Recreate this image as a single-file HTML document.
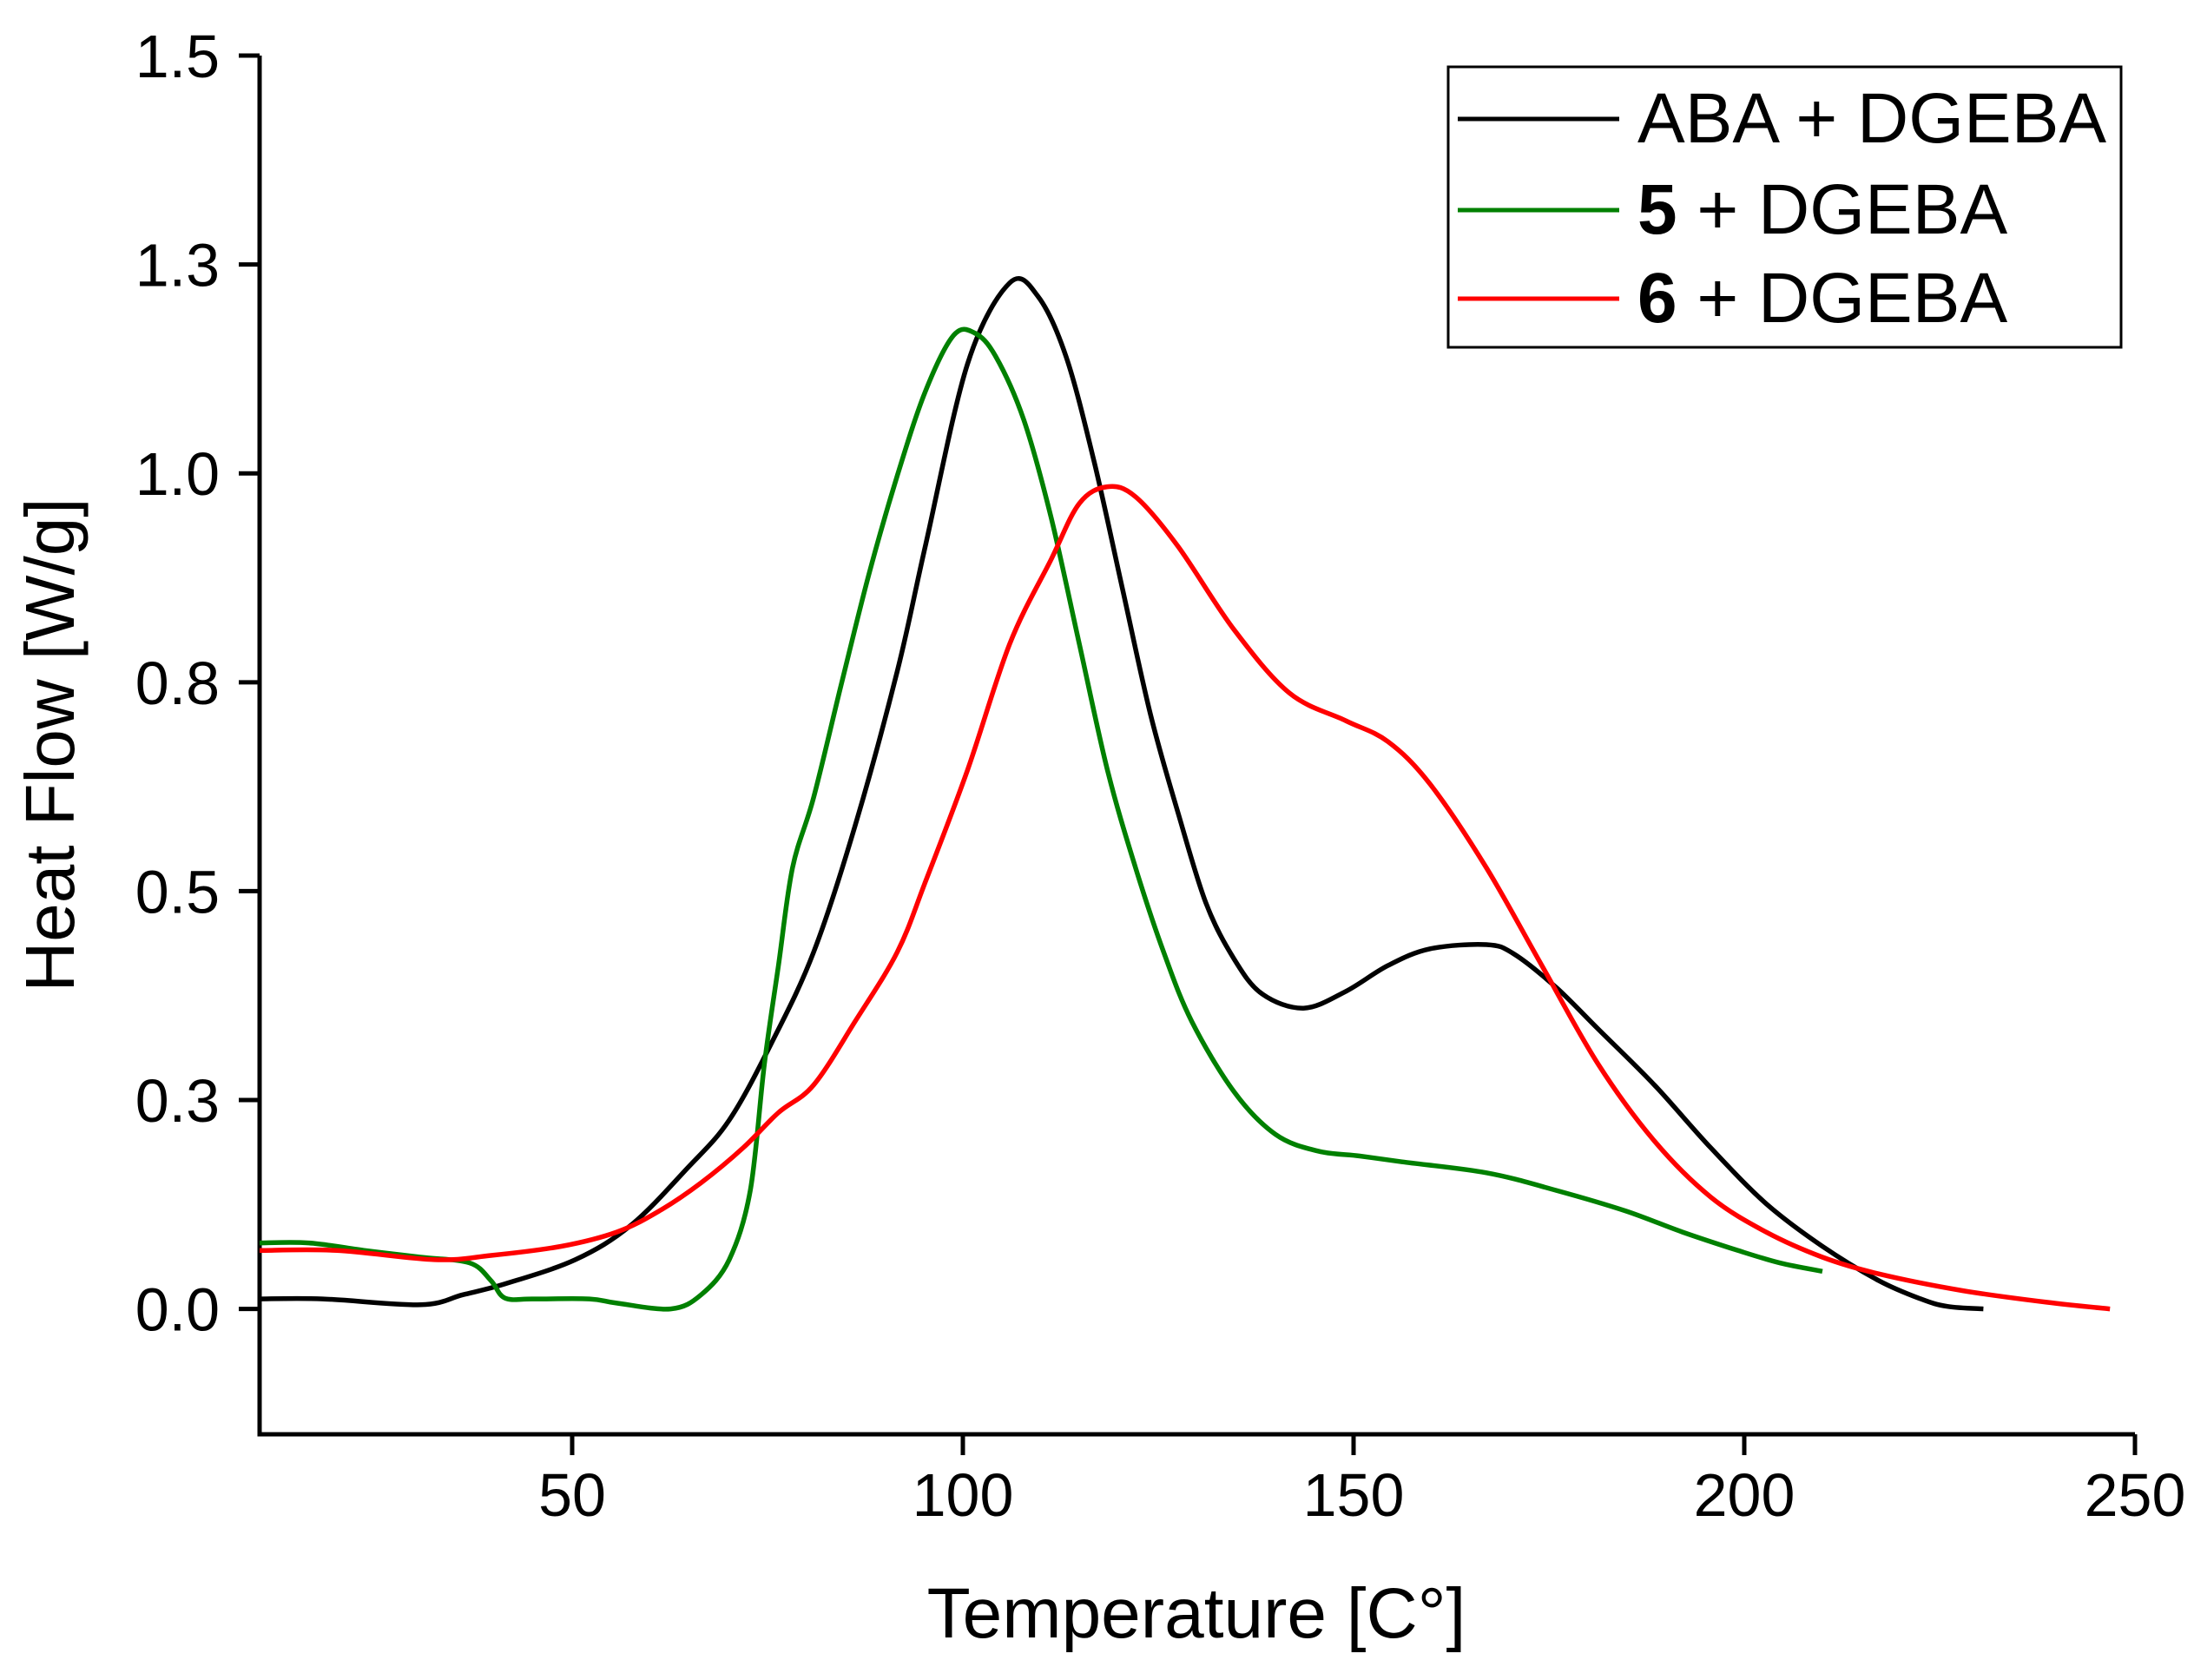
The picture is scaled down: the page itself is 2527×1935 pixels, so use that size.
<!DOCTYPE html>
<html><head><meta charset="utf-8"><style>
html,body{margin:0;padding:0;background:#fff;}
svg{display:block;font-family:"Liberation Sans",Arial,sans-serif;}
</style></head><body>
<svg id="chart" width="2527" height="1935" viewBox="0 0 2527 1935" xmlns="http://www.w3.org/2000/svg">
<g id="axes"></g>
<g id="series"></g>
<g>
<rect x="1668" y="77" width="775" height="323" fill="#fff" stroke="#000" stroke-width="3"/>
<line x1="1679" y1="137" x2="1865" y2="137" stroke="#000" stroke-width="5"/>
<text x="1886" y="164" font-size="82">ABA + DGEBA</text>
<line x1="1679" y1="242" x2="1865" y2="242" stroke="#008000" stroke-width="5"/>
<text x="1886" y="269" font-size="82"><tspan font-weight="bold">5</tspan> + DGEBA</text>
<line x1="1679" y1="344" x2="1865" y2="344" stroke="#ff0000" stroke-width="5"/>
<text x="1886" y="371" font-size="82"><tspan font-weight="bold">6</tspan> + DGEBA</text>
</g>
<text x="1378" y="1886" font-size="82" text-anchor="middle">Temperature [C°]</text>
<text transform="translate(85,858) rotate(-90)" font-size="80" text-anchor="middle">Heat Flow [W/g]</text>
</svg>
<script>
const xTicks=[50,100,150,200,250];
const xTickLabels=["50","100","150","200","250"];
const yTicks=[0,0.25,0.5,0.75,1.0,1.25,1.5];
const yTickLabels=["0.0","0.3","0.5","0.8","1.0","1.3","1.5"];
const abaT=[10,18.1,30.6,36,41.4,50.4,57.5,64.7,70.1,75.5,80.9,86.2,91.6,95.2,100.6,106,109.6,113.2,116.8,120.4,124,127.5,131.1,134.7,138.3,143.6,149,154.4,159.8,167,170.5,175.9,181.3,188.5,195.7,202.8,210,217.2,222.6,226,230.6];
const abaV=[0.012,0.012,0.005,0.017,0.03,0.059,0.10,0.168,0.226,0.318,0.427,0.578,0.763,0.913,1.131,1.228,1.212,1.14,1.014,0.863,0.712,0.595,0.486,0.419,0.377,0.360,0.380,0.411,0.431,0.436,0.425,0.385,0.335,0.268,0.193,0.126,0.075,0.034,0.012,0.003,0];
const g5T=[10,16.3,23.5,30.6,36.9,39.6,41.4,45,52.2,55.7,62.6,66.5,70.1,72.8,74.6,76.4,78.2,80.9,84.4,88,91.6,95.2,98.8,101.5,104.2,107.8,111.3,114.9,118.5,122.1,125.7,129.3,134.7,140,145.4,150.8,156.2,167,175.9,184.9,192.1,199.2,204.6,210];
const g5V=[0.079,0.079,0.070,0.062,0.055,0.034,0.013,0.012,0.012,0.007,0,0.017,0.059,0.142,0.293,0.411,0.528,0.612,0.746,0.880,0.997,1.098,1.165,1.168,1.14,1.064,0.947,0.796,0.645,0.528,0.427,0.344,0.260,0.209,0.189,0.183,0.176,0.163,0.142,0.117,0.092,0.070,0.055,0.045];
const g6T=[10,19.9,32.4,39.6,48.6,55.7,61.1,66.5,71.9,76.4,80.9,86.2,91.6,95.2,100.6,106,111.3,114.9,118.5,122.1,127.5,134.7,141.8,149,154.4,159.8,167,174.1,181.3,188.5,195.7,202.8,210,217.2,227.9,238.7,246.8];
const g6V=[0.070,0.070,0.059,0.064,0.075,0.092,0.117,0.151,0.193,0.235,0.268,0.344,0.427,0.511,0.645,0.796,0.897,0.964,0.984,0.972,0.913,0.813,0.737,0.704,0.679,0.628,0.528,0.411,0.293,0.201,0.134,0.092,0.062,0.042,0.022,0.008,0];

const X0=299,X1=2459,Y0=1652,Y1=64;
const xMin=10,xMax=250,yMin=-0.15,yMax=1.5;
function sx(v){return X0+(v-xMin)/(xMax-xMin)*(X1-X0);}
function sy(v){return Y0-(v-yMin)/(yMax-yMin)*(Y0-Y1);}
const NS="http://www.w3.org/2000/svg";
function mk(tag,attrs,parent){const e=document.createElementNS(NS,tag);for(const k in attrs)e.setAttribute(k,attrs[k]);parent.appendChild(e);return e;}
const axes=document.getElementById('axes');
let el=mk('path',{d:`M${X0},${Y1} V${Y0} H${X1}`,fill:'none',stroke:'#000','stroke-width':5},axes);


xTicks.forEach((t,i)=>{
  const x=sx(t);
  let l=mk('line',{x1:x,y1:Y0,x2:x,y2:Y0+24,stroke:'#000','stroke-width':5},axes);
  
  
  let tx=mk('text',{x:x,y:Y0+94,'font-size':70,'text-anchor':'middle'},axes);
  tx.textContent=xTickLabels[i];
  
  
});
yTicks.forEach((t,i)=>{
  const y=sy(t);
  let l=mk('line',{x1:X0-24,y1:y,x2:X0,y2:y,stroke:'#000','stroke-width':5},axes);
  
  
  let tx=mk('text',{x:X0-46,y:y+25,'font-size':70,'text-anchor':'end'},axes);
  tx.textContent=yTickLabels[i];
  
  
});
function smooth(T,V){
  const p=T.map((t,i)=>[sx(t),sy(V[i])]);
  let d=`M${p[0][0]},${p[0][1]}`;
  for(let i=0;i<p.length-1;i++){
    const a=p[Math.max(0,i-1)],b=p[i],c=p[i+1],e=p[Math.min(p.length-1,i+2)];
    const c1=[b[0]+(c[0]-a[0])/6,b[1]+(c[1]-a[1])/6];
    const c2=[c[0]-(e[0]-b[0])/6,c[1]-(e[1]-b[1])/6];
    d+=` C${c1[0].toFixed(1)},${c1[1].toFixed(1)} ${c2[0].toFixed(1)},${c2[1].toFixed(1)} ${c[0].toFixed(1)},${c[1].toFixed(1)}`;
  }
  return d;
}
const ser=document.getElementById('series');
let s1=mk('path',{d:smooth(abaT,abaV),fill:'none',stroke:'#000','stroke-width':5.5},ser);


let s2=mk('path',{d:smooth(g5T,g5V),fill:'none',stroke:'#008000','stroke-width':5.5},ser);


let s3=mk('path',{d:smooth(g6T,g6V),fill:'none',stroke:'#ff0000','stroke-width':5.5},ser);


</script>
</body></html>
